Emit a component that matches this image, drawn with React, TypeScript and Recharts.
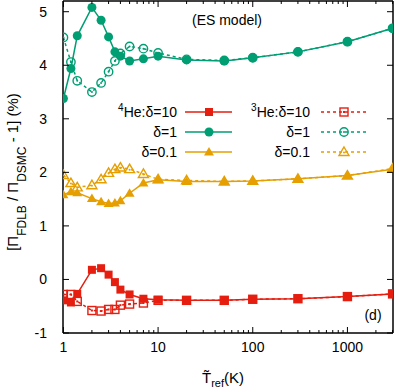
import React from 'react';
import { LineChart, Line, XAxis, YAxis } from 'recharts';

// reference temperatures (K) shared by all series
const temps = [1, 1.2, 1.4, 2, 2.5, 3, 3.5, 4, 5, 7, 10, 20, 50, 100, 300, 1000, 3000];

// 4He (solid lines, filled markers)
const he4D10 = [-0.39, -0.43, -0.27, 0.18, 0.21, 0.09, -0.05, -0.19, -0.28, -0.36, -0.38, -0.39, -0.39, -0.37, -0.36, -0.32, -0.27];
const he4D1 = [3.38, 3.94, 4.55, 5.08, 4.84, 4.53, 4.25, 4.17, 4.08, 4.12, 4.17, 4.1, 4.08, 4.14, 4.25, 4.44, 4.69];
const he4D01 = [1.58, 1.64, 1.62, 1.51, 1.45, 1.42, 1.43, 1.47, 1.61, 1.8, 1.86, 1.83, 1.83, 1.84, 1.88, 1.94, 2.06];

// 3He (dashed lines, open markers)
const he3D10 = [-0.28, -0.28, -0.41, -0.58, -0.59, -0.56, -0.56, -0.48, -0.46, -0.44, -0.39, -0.39, -0.39, -0.37, -0.36, -0.32, -0.27];
const he3D1 = [4.52, 4.06, 3.71, 3.5, 3.67, 3.88, 4.08, 4.22, 4.35, 4.31, 4.23, 4.11, 4.09, 4.14, 4.25, 4.44, 4.69];
const he3D01 = [1.95, 1.8, 1.72, 1.76, 1.87, 1.99, 2.06, 2.09, 2.06, 1.97, 1.87, 1.85, 1.83, 1.84, 1.88, 1.94, 2.07];

const xMajor = [1, 10, 100, 1000];
const xTicks = [1, 2, 3, 4, 5, 6, 7, 8, 9, 10, 20, 30, 40, 50, 60, 70, 80, 90, 100, 200, 300, 400, 500, 600, 700, 800, 900, 1000, 2000, 3000];
const yTicks = [-1, 0, 1, 2, 3, 4, 5];

const RED = '#e51e10';
const GREEN = '#009e73';
const ORANGE = '#e69f00';
const FONT = '"Liberation Sans", Arial, Helvetica, sans-serif';

const X_MARGIN = 8;
const Y_MARGIN = 16;

const rows = temps.map((t, i) => ({
  t,
  a10: he4D10[i],
  a1: he4D1[i],
  a01: he4D01[i],
  b10: he3D10[i],
  b1: he3D1[i],
  b01: he3D01[i],
}));

type Kind = 'sq' | 'osq' | 'ci' | 'oci' | 'tri' | 'otri';

function Marker({ kind, cx, cy, color }: { kind: Kind; cx: number; cy: number; color: string }) {
  if (cx == null || cy == null) return null;
  switch (kind) {
    case 'sq':
      return <rect x={cx - 4} y={cy - 4} width={8} height={8} fill={color} />;
    case 'osq':
      return (
        <g>
          <rect x={cx - 4} y={cy - 4} width={8} height={8} fill="none" stroke={color} strokeWidth={1.4} />
          <rect x={cx - 1} y={cy - 1} width={2} height={2} fill={color} />
        </g>
      );
    case 'ci':
      return <circle cx={cx} cy={cy} r={4.5} fill={color} />;
    case 'oci':
      return (
        <g>
          <circle cx={cx} cy={cy} r={4.2} fill="none" stroke={color} strokeWidth={1.4} />
          <circle cx={cx} cy={cy} r={1} fill={color} />
        </g>
      );
    case 'tri':
      return <polygon points={`${cx},${cy - 5} ${cx + 5},${cy + 3.5} ${cx - 5},${cy + 3.5}`} fill={color} />;
    default:
      return (
        <g>
          <polygon points={`${cx},${cy - 5} ${cx + 5},${cy + 3.5} ${cx - 5},${cy + 3.5}`} fill="none" stroke={color} strokeWidth={1.4} />
          <circle cx={cx} cy={cy + 0.5} r={1} fill={color} />
        </g>
      );
  }
}

const dotOf = (kind: Kind, color: string) => (p: any) => (
  <Marker key={`${kind}-${p.index}`} kind={kind} cx={p.cx} cy={p.cy} color={color} />
);

// gnuplot-like inward ticks, minor ones shorter
const BottomTick = (props: any) => {
  const { x, y, payload } = props;
  const major = xMajor.includes(payload.value);
  const base = y - X_MARGIN;
  return (
    <g>
      <line x1={x} x2={x} y1={base} y2={base - (major ? 6 : 3)} stroke="#000" />
      {major && (
        <text x={x} y={y} dy="0.75em" textAnchor="middle" fontSize={14} fontFamily={FONT} fill="#000">
          {payload.value}
        </text>
      )}
    </g>
  );
};

const TopTick = (props: any) => {
  const { x, y, payload } = props;
  const major = xMajor.includes(payload.value);
  return <line x1={x} x2={x} y1={y} y2={y + (major ? 6 : 3)} stroke="#000" />;
};

const LeftTick = (props: any) => {
  const { x, y, payload } = props;
  const base = x + Y_MARGIN;
  return (
    <g>
      <line x1={base} x2={base + 6} y1={y} y2={y} stroke="#000" />
      <text x={x} y={y} dy="0.36em" textAnchor="end" fontSize={14} fontFamily={FONT} fill="#000">
        {payload.value}
      </text>
    </g>
  );
};

const RightTick = (props: any) => {
  const { x, y } = props;
  return <line x1={x} x2={x - 6} y1={y} y2={y} stroke="#000" />;
};

const legendRows: { sup: string; label: string; a: Kind; b: Kind; color: string }[] = [
  { sup: 'He:δ=10', label: 'δ=10', a: 'sq', b: 'osq', color: RED },
  { sup: '', label: 'δ=1', a: 'ci', b: 'oci', color: GREEN },
  { sup: '', label: 'δ=0.1', a: 'tri', b: 'otri', color: ORANGE },
];

function LegendText({ x, y, iso, row }: { x: number; y: number; iso: string; row: number }) {
  const txt = { fontSize: 14, fontFamily: FONT, fill: '#000' };
  if (row !== 0) {
    return (
      <text x={x} y={y + 5} textAnchor="end" {...txt}>
        {legendRows[row].label}
      </text>
    );
  }
  return (
    <text x={x} y={y + 5} textAnchor="end" {...txt}>
      <tspan fontSize={10} dy={-6}>{iso}</tspan>
      <tspan dy={6}>{legendRows[row].sup}</tspan>
    </text>
  );
}

function Overlay() {
  const txt = { fontSize: 14, fontFamily: FONT, fill: '#000' };
  return (
    <svg width={398} height={391} style={{ position: 'absolute', left: 0, top: 0, pointerEvents: 'none' }}>
      {legendRows.map((r, i) => {
        const y = 112 + i * 20;
        return (
          <g key={i}>
            <LegendText x={177} y={y} iso="4" row={i} />
            <line x1={185} x2={232} y1={y} y2={y} stroke={r.color} strokeWidth={1.5} />
            <Marker kind={r.a} cx={209} cy={y} color={r.color} />
            <LegendText x={310} y={y} iso="3" row={i} />
            <line x1={321} x2={368} y1={y} y2={y} stroke={r.color} strokeWidth={1.5} strokeDasharray="3 3" />
            <Marker kind={r.b} cx={344} cy={y} color={r.color} />
          </g>
        );
      })}
      <text x={227} y={25} textAnchor="middle" {...txt}>(ES model)</text>
      <text x={373} y={320} textAnchor="middle" {...txt}>(d)</text>
      {/* x title: T with combining tilde, subscript ref */}
      <text x={202} y={383} fontSize={15} fontFamily={FONT} fill="#000">
        {'T\u0303'}<tspan fontSize={11} dy="4">ref</tspan><tspan dy="-4">(K)</tspan>
      </text>
      {/* y title */}
      <text transform="translate(18,172) rotate(-90)" textAnchor="middle" fontSize={15} fontFamily={FONT} fill="#000">
        [Π<tspan fontSize={12} dy="8">FDLB</tspan>
        <tspan dy="-8"> / Π</tspan>
        <tspan fontSize={12} dy="8">DSMC</tspan>
        <tspan dy="-8"> - 1] (%)</tspan>
      </text>
    </svg>
  );
}

export default function App() {
  const axisLine = { stroke: '#000', strokeWidth: 1.5 };
  return (
    <div style={{ position: 'absolute', left: 0, top: 0, width: 398, height: 391, background: '#fff' }}>
      <LineChart width={398} height={391} data={rows} margin={{ top: 0, right: 0, bottom: 0, left: 0 }}>
        <XAxis
          xAxisId="b"
          dataKey="t"
          type="number"
          scale="log"
          domain={[0.99, 3030]}
          allowDataOverflow
          ticks={xTicks}
          interval={0}
          height={58}
          tickSize={0}
          tickMargin={X_MARGIN}
          tickLine={false}
          axisLine={axisLine}
          tick={<BottomTick />}
        />
        <XAxis
          xAxisId="t"
          orientation="top"
          dataKey="t"
          type="number"
          scale="log"
          domain={[0.99, 3030]}
          allowDataOverflow
          ticks={xTicks}
          interval={0}
          height={1}
          tickSize={0}
          tickMargin={0}
          tickLine={false}
          axisLine={axisLine}
          tick={<TopTick />}
        />
        <YAxis
          yAxisId="l"
          type="number"
          domain={[-1, 5.2]}
          allowDataOverflow
          ticks={yTicks}
          interval={0}
          width={63}
          tickSize={0}
          tickMargin={Y_MARGIN}
          tickLine={false}
          axisLine={axisLine}
          tick={<LeftTick />}
        />
        <YAxis
          yAxisId="r"
          orientation="right"
          type="number"
          domain={[-1, 5.2]}
          allowDataOverflow
          ticks={yTicks}
          interval={0}
          width={5}
          tickSize={0}
          tickMargin={0}
          tickLine={false}
          axisLine={axisLine}
          tick={<RightTick />}
        />
        <Line xAxisId="b" yAxisId="l" dataKey="a10" stroke={RED} strokeWidth={1.5} dot={dotOf('sq', RED)} isAnimationActive={false} />
        <Line xAxisId="b" yAxisId="l" dataKey="a1" stroke={GREEN} strokeWidth={1.5} dot={dotOf('ci', GREEN)} isAnimationActive={false} />
        <Line xAxisId="b" yAxisId="l" dataKey="a01" stroke={ORANGE} strokeWidth={1.5} dot={dotOf('tri', ORANGE)} isAnimationActive={false} />
        <Line xAxisId="b" yAxisId="l" dataKey="b10" stroke={RED} strokeWidth={1.5} strokeDasharray="3 3" dot={dotOf('osq', RED)} isAnimationActive={false} />
        <Line xAxisId="b" yAxisId="l" dataKey="b1" stroke={GREEN} strokeWidth={1.5} strokeDasharray="3 3" dot={dotOf('oci', GREEN)} isAnimationActive={false} />
        <Line xAxisId="b" yAxisId="l" dataKey="b01" stroke={ORANGE} strokeWidth={1.5} strokeDasharray="3 3" dot={dotOf('otri', ORANGE)} isAnimationActive={false} />
      </LineChart>
      <Overlay />
    </div>
  );
}
